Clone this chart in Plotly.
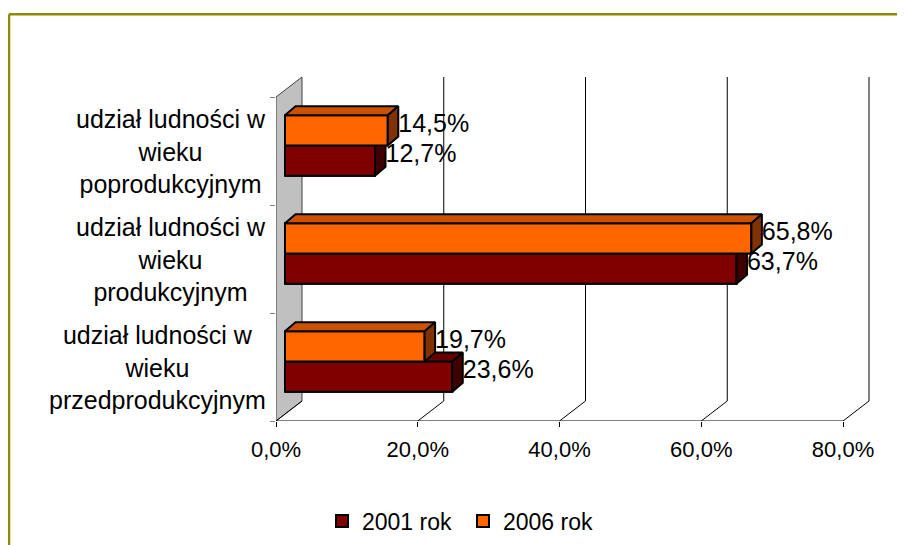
"""
plot.py
-------

3D-style clustered bar chart: population share by economic age group.
"""

import plotly.graph_objects as go


# ==========================================================
# Data
# ==========================================================

categories = [
    "udział ludności w<br>wieku<br>przedprodukcyjnym",
    "udział ludności w<br>wieku<br>produkcyjnym",
    "udział ludności w<br>wieku<br>poprodukcyjnym",
]

series_names = ["2001 rok", "2006 rok"]

values_2001 = [23.6, 63.7, 12.7]
values_2006 = [19.7, 65.8, 14.5]

x_ticks = [0, 20, 40, 60, 80]
x_tick_labels = ["0,0%", "20,0%", "40,0%", "60,0%", "80,0%"]


# ==========================================================
# Geometry of the fake 3D box
# ==========================================================

W, H = 905, 545
OFF = 8                # page body margin, screen px -> figure px

PX = 567 / 80          # pixels per percent
PY = 108               # pixels per category unit

WALL_DX = 26 / PX      # depth of the whole box (data units)
WALL_DY = 20 / PY

BAR_BASE = 9 / PX      # bars sit a bit behind the front plane
BAR_SHIFT = 0.05
BAR_H = 0.28
BAR_DX = 10.5 / PX     # depth of each bar
BAR_DY = 9 / PY

RED = dict(front="#800000", top="#660000", side="#400000")
ORANGE = dict(front="#FF6600", top="#CC5200", side="#803300")

FONT = "Liberation Sans, Arial, sans-serif"


def sx(px):
    return (px - OFF) / W


def sy(px):
    return 1 - (px - OFF) / H


def face(xs, ys, color):
    return go.Scatter(
        x=xs + [xs[0]],
        y=ys + [ys[0]],
        mode="lines",
        fill="toself",
        fillcolor=color,
        line=dict(color="black", width=2),
        hoverinfo="skip",
        showlegend=False,
    )


def box_faces(value, y_bottom, colors):
    x0 = BAR_BASE
    x1 = BAR_BASE + value
    y0 = y_bottom
    y1 = y_bottom + BAR_H
    front = face([x0, x1, x1, x0], [y0, y0, y1, y1], colors["front"])
    top = face(
        [x0, x1, x1 + BAR_DX, x0 + BAR_DX],
        [y1, y1, y1 + BAR_DY, y1 + BAR_DY],
        colors["top"],
    )
    side = face(
        [x1, x1 + BAR_DX, x1 + BAR_DX, x1],
        [y0, y0 + BAR_DY, y1 + BAR_DY, y1],
        colors["side"],
    )
    return front, top, side


# ==========================================================
# Figure
# ==========================================================

fig = go.Figure()

pos = list(range(len(categories)))
y_red = [p + BAR_SHIFT - BAR_H / 2 for p in pos]
y_orange = [p + BAR_SHIFT + BAR_H / 2 for p in pos]

# plain bars (front faces) - also provide the legend
fig.add_trace(go.Bar(
    name=series_names[0],
    x=values_2001,
    y=y_red,
    base=BAR_BASE,
    orientation="h",
    width=BAR_H,
    marker=dict(color=RED["front"], line=dict(color="black", width=2)),
))

fig.add_trace(go.Bar(
    name=series_names[1],
    x=values_2006,
    y=y_orange,
    base=BAR_BASE,
    orientation="h",
    width=BAR_H,
    marker=dict(color=ORANGE["front"], line=dict(color="black", width=2)),
))

# 3D faces, painted back to front
for i in pos:
    r_front, r_top, r_side = box_faces(values_2001[i], i + BAR_SHIFT - BAR_H, RED)
    o_front, o_top, o_side = box_faces(values_2006[i], i + BAR_SHIFT, ORANGE)
    for tr in (r_front, r_top, r_side, o_front, o_top, o_side):
        fig.add_trace(tr)

# data labels
label_x, label_y, label_t = [], [], []
for i in pos:
    for v, yb in ((values_2001[i], y_red[i]), (values_2006[i], y_orange[i])):
        label_x.append(BAR_BASE + v + BAR_DX)
        label_y.append(yb + BAR_DY / 2)
        label_t.append(f"{v:.1f}%".replace(".", ","))

fig.add_trace(go.Scatter(
    x=label_x,
    y=label_y,
    text=label_t,
    mode="text",
    textposition="middle right",
    textfont=dict(size=25, color="black", family=FONT),
    cliponaxis=False,
    hoverinfo="skip",
    showlegend=False,
))


# ==========================================================
# Walls, floor and gridlines
# ==========================================================

shapes = []

y_lo = -0.5
y_hi = len(categories) - 0.5

shapes.append(dict(
    type="path",
    path=(f"M 0,{y_lo} L 0,{y_hi} L {WALL_DX},{y_hi + WALL_DY} "
          f"L {WALL_DX},{y_lo + WALL_DY} Z"),
    xref="x", yref="y",
    fillcolor="#C0C0C0",
    line=dict(color="#404040", width=1),
    layer="below",
))

for t in x_ticks:
    shapes.append(dict(
        type="line", xref="x", yref="y",
        x0=t, y0=y_lo, x1=t + WALL_DX, y1=y_lo + WALL_DY,
        line=dict(color="black", width=1), layer="below",
    ))
    if t > 0:
        shapes.append(dict(
            type="line", xref="x", yref="y",
            x0=t + WALL_DX, y0=y_lo + WALL_DY,
            x1=t + WALL_DX, y1=y_hi + WALL_DY,
            line=dict(color="black", width=1), layer="below",
        ))

shapes.append(dict(
    type="line", xref="x", yref="y",
    x0=0, y0=y_lo, x1=x_ticks[-1], y1=y_lo,
    line=dict(color="black", width=1), layer="below",
))

# olive frame of the chart area
shapes.append(dict(
    type="line", xref="paper", yref="paper",
    x0=sx(9), y0=sy(14.2), x1=1, y1=sy(14.2),
    line=dict(color="#8C8C00", width=2.5),
))
shapes.append(dict(
    type="line", xref="paper", yref="paper",
    x0=sx(9), y0=0, x1=sx(9), y1=sy(14.2),
    line=dict(color="#8C8C00", width=2.5),
))

# category labels, centred lines
annotations = []
for i, name in enumerate(categories):
    annotations.append(dict(
        text=name,
        xref="paper", yref="y",
        x=sx(268), y=i,
        xanchor="right", yanchor="middle",
        align="center",
        showarrow=False,
        font=dict(size=25, color="black", family=FONT),
    ))


# ==========================================================
# Layout
# ==========================================================

fig.update_layout(
    width=W,
    height=H,
    autosize=False,
    margin=dict(l=0, r=0, t=0, b=0, autoexpand=False),
    paper_bgcolor="white",
    plot_bgcolor="rgba(0,0,0,0)",
    font=dict(family=FONT, color="black"),
    barmode="overlay",
    shapes=shapes,
    annotations=annotations,
    xaxis=dict(
        domain=[sx(276), sx(880)],
        range=[0, 604 / PX],
        tickvals=x_ticks,
        ticktext=x_tick_labels,
        ticks="outside",
        ticklen=5,
        tickcolor="black",
        ticklabelstandoff=4,
        tickfont=dict(size=22, family=FONT),
        showgrid=False,
        zeroline=False,
        showline=False,
        automargin=False,
        fixedrange=True,
    ),
    yaxis=dict(
        domain=[sy(421), sy(70)],
        range=[-0.5, -0.5 + 351 / PY],
        tickvals=[-0.5, 0.5, 1.5, 2.5],
        ticks="outside",
        ticklen=5,
        tickcolor="#808080",
        showticklabels=False,
        showgrid=False,
        zeroline=False,
        showline=False,
        automargin=False,
        fixedrange=True,
    ),
    legend=dict(
        orientation="h",
        x=sx(322),
        xanchor="left",
        y=sy(521),
        yanchor="middle",
        entrywidth=96,
        font=dict(size=23, family=FONT),
        bgcolor="rgba(0,0,0,0)",
    ),
)

fig.write_html("out.html")
